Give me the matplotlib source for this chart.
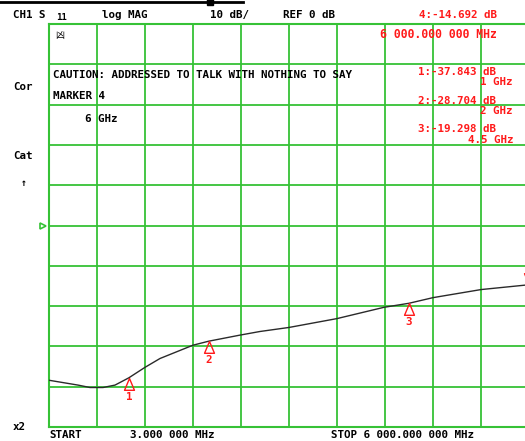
import numpy as np
import matplotlib
matplotlib.use("Agg")
import matplotlib.pyplot as plt
from matplotlib.lines import Line2D

# trace (MHz, dB)
freq = [3, 365, 515, 678, 828, 1000, 1202, 1390, 1802, 2000, 2389, 2639,
        3001, 3601, 4188, 4500, 4801, 5400, 6000]
mag = [-38.4, -39.6, -40.2, -40.2, -39.6, -37.8, -35.2, -33.0, -29.7, -28.7,
       -27.2, -26.3, -25.3, -23.1, -20.3, -19.3, -17.9, -15.9, -14.7]

# markers
mk_freq = [1000, 2000, 4500]
mk_db = [-37.843, -28.704, -19.298]
mk_names = ["1", "2", "3"]
mk_freq_lbl = ["1 GHz", "2 GHz", "4.5 GHz"]
act_freq = 6000
act_db = -14.692

f_start, f_stop = 3, 6000
ref_db, scale_db = 0, 10

W, H = 525, 441
fig = plt.figure(figsize=(W / 100, H / 100), dpi=100)
fig.patch.set_facecolor("white")

# grid area runs a bit past the right edge of the screen grab
ax = fig.add_axes([49 / W, 14 / H, 480 / W, 403 / H])
ax.set_xlim(f_start, f_stop)
ax.set_ylim(ref_db - 5 * scale_db, ref_db + 5 * scale_db)
ax.set_xticks(np.linspace(f_start, f_stop, 11))
ax.set_yticks(np.arange(-50, 51, 10))
ax.tick_params(length=0, labelbottom=False, labelleft=False)
green = "#36c236"
ax.grid(True, color=green, lw=1.3)
for s in ax.spines.values():
    s.set_color(green)
    s.set_linewidth(1.5)

ax.plot(freq, mag, color="#2a2a2a", lw=1.0, zorder=3)

red = "#ff1a1a"
tri_up = [(0, 0), (-0.42, -1), (0.42, -1), (0, 0)]
for f, d, n in zip(mk_freq, mk_db, mk_names):
    ax.plot([f], [d], marker=tri_up, ms=17, mfc="none", mec=red, mew=1.0,
            ls="none", zorder=4)
    ax.annotate(n, xy=(f, d), xytext=(0, -19), textcoords="offset pixels",
                ha="center", va="center", color=red, fontsize=7.8,
                fontweight="bold", family="DejaVu Sans Mono")
tri_dn = [(0, 0), (-0.42, 1), (0.42, 1), (0, 0)]
ax.plot([act_freq], [act_db], marker=tri_dn, ms=17, mfc="none", mec=red,
        mew=1.0, ls="none", clip_on=False, zorder=4)

# reference position pointer on the left
ax.plot([-0.012], [ref_db], marker=">", ms=4, mfc="none", mec=green, mew=1.2,
        transform=ax.get_yaxis_transform(), clip_on=False)


def txt(x, y, s, color="black", size=7.8, ha="left", **kw):
    fig.text(x / W, 1 - y / H, s, color=color, fontsize=size, ha=ha,
             va="center", fontweight="bold", family="DejaVu Sans Mono", **kw)


# status bar line at the very top
fig.add_artist(Line2D([0, 243 / W], [1 - 2 / H, 1 - 2 / H], color="black",
                      lw=2, transform=fig.transFigure))
fig.add_artist(Line2D([210 / W], [1 - 2 / H], marker="s", ms=4, color="black",
                      transform=fig.transFigure))

txt(13, 15, "CH1 S")
txt(56, 17, "11", size=6.5)
txt(102, 15, "log MAG")
txt(210, 15, "10 dB/")
txt(283, 15, "REF 0 dB")
txt(497, 15, "4:-14.692 dB", color=red, ha="right")
txt(497, 34, "6 000.000 000 MHz", color=red, ha="right", size=8.3)
fig.text(55 / W, 1 - 35 / H, "凶", fontsize=6.5, va="center",
         family=["Noto Sans CJK JP", "DejaVu Sans"], color="black")

txt(13, 87, "Cor")
txt(13, 156, "Cat")
txt(24, 183, "↑", ha="center", size=7)
txt(13, 427, "x2")

txt(53, 75, "CAUTION: ADDRESSED TO TALK WITH NOTHING TO SAY")
txt(53, 96, "MARKER 4")
txt(85, 119, "6 GHz")

rows = [72, 101, 129]
for y, n, d, fl in zip(rows, mk_names, mk_db, mk_freq_lbl):
    txt(496, y, f"{n}:{d:.3f} dB", color=red, ha="right")
    txt(513, y + 10 if fl != "4.5 GHz" else y + 11, fl, color=red, ha="right")

txt(49, 435, "START")
txt(130, 435, "3.000 000 MHz")
txt(331, 435, "STOP 6 000.000 000 MHz")

fig.savefig("out.png", dpi=100)
